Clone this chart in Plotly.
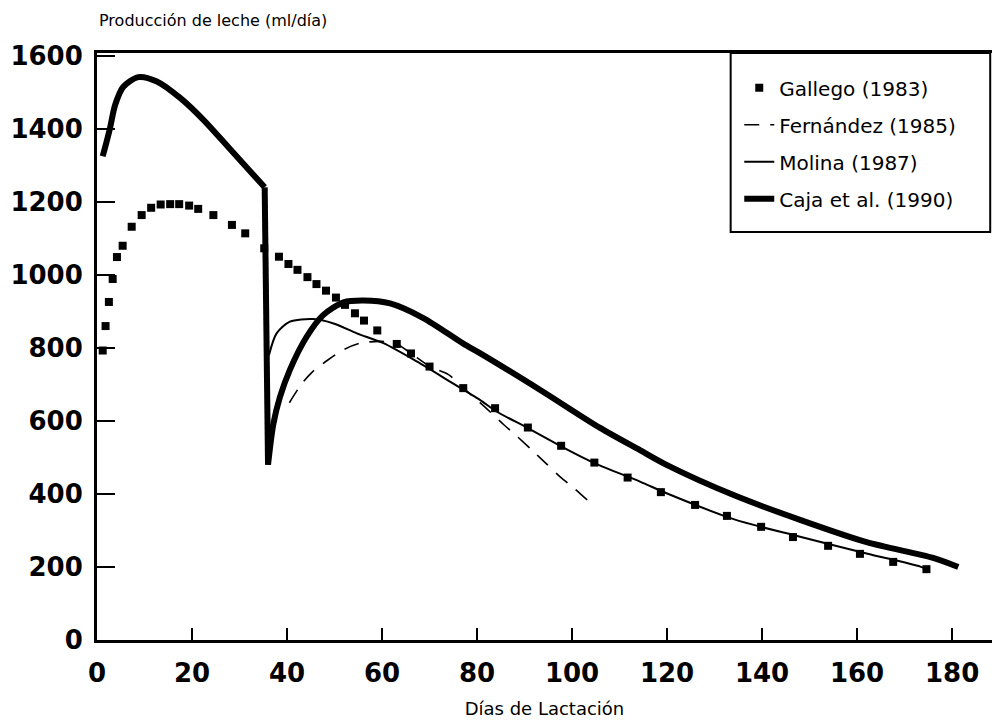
import plotly.graph_objects as go

# ---- data ----
gallego_days = [1.2, 1.8, 2.5, 3.3, 4.2, 5.4, 7.3, 9.4, 11.4, 13.4, 15.4, 17.3, 19.4, 21.3,
                24.5, 28.4, 31.2, 35.2, 38.3, 40.3, 42.2, 44.3, 46.2, 48.2, 50.3, 52.2,
                54.3, 56.2, 59.0, 63.1, 66.1, 70.0, 77.1, 83.8, 90.7, 97.7, 104.7, 111.7,
                118.7, 125.9, 132.6, 139.8, 146.5, 153.9, 160.6, 167.6, 174.6]
gallego_vals = [793, 860, 926, 989, 1049, 1080, 1132, 1164, 1184, 1193, 1194, 1194, 1190, 1181,
                1164, 1137, 1114, 1073, 1050, 1030, 1014, 994, 975, 957, 938, 918,
                895, 875, 848, 811, 785, 749, 690, 635, 582, 532, 486, 445,
                405, 370, 340, 310, 282, 258, 236, 214, 194]

fernandez_days = [40.5, 43.0, 45.3, 48.6, 51.9, 55.4, 59.9, 63.1, 66.1, 70.1, 74.0, 77.5,
                  81.5, 85.7, 88.5, 91.5, 94.5, 97.5, 100.4, 103.2, 104.8]
fernandez_vals = [650, 700, 734, 767, 795, 813, 818, 811, 785, 749, 727, 686,
                  640, 589, 557, 521, 484, 447, 416, 384, 368]

molina_days = [36.2, 37.8, 40.6, 45.5, 49.8, 54.7, 60.3, 67.3, 74.3, 80.6, 84.1, 90.8,
               97.8, 104.8, 114.3, 119.9, 134.0, 148.0, 162.0, 173.3, 174.6]
molina_vals = [780, 840, 872, 879, 867, 840, 813, 763, 708, 658, 626, 580,
               530, 484, 434, 402, 331, 283, 237, 201, 194]

caja_days = [1.2, 2.7, 3.8, 5.5, 8.7, 12.6, 17.5, 22.4, 28.0, 35.3, 36.0, 37.1, 38.5, 40.6,
             44.1, 47.6, 51.9, 56.1, 61.7, 68.7, 77.1, 80.6, 93.3, 105.9, 114.3, 120.0,
             134.0, 148.0, 162.0, 176.0, 181.3]
caja_vals = [1325, 1400, 1465, 1515, 1542, 1530, 1485, 1425, 1345, 1240, 480, 590, 665, 740,
             830, 890, 925, 930, 922, 882, 812, 786, 685, 581, 520, 479,
             397, 329, 268, 225, 200]

x_ticks = [0, 20, 40, 60, 80, 100, 120, 140, 160, 180]
y_ticks = [0, 200, 400, 600, 800, 1000, 1200, 1400, 1600]

series_names = ["Gallego (1983)", "Fernández (1985)", "Molina (1987)", "Caja et al. (1990)"]
x_title = "Días de Lactación"
y_title = "Producción de leche (ml/día)"


def split_at_drop(xs, ys):
    """Separate the sudden drop so the smooth curve parts do not overshoot it."""
    for i in range(len(ys) - 1):
        if ys[i] - ys[i + 1] > 500:
            bx = list(xs[:i + 1]) + [None] + list(xs[i:i + 2]) + [None] + list(xs[i + 1:])
            by = list(ys[:i + 1]) + [None] + list(ys[i:i + 2]) + [None] + list(ys[i + 1:])
            return bx, by
    return list(xs), list(ys)


caja_x, caja_y = split_at_drop(caja_days, caja_vals)

# ---- figure ----
fig = go.Figure()
fig.add_trace(go.Scatter(x=gallego_days, y=gallego_vals, mode="markers", name=series_names[0],
                         marker=dict(symbol="square", size=8, color="black"),
                         legendgroup="g1"))
fig.add_trace(go.Scatter(x=fernandez_days, y=fernandez_vals, mode="lines", name=series_names[1],
                         line=dict(color="black", width=1.6, dash="15px,11px", shape="spline",
                                   smoothing=0.8),
                         legendgroup="g2"))
fig.add_trace(go.Scatter(x=molina_days, y=molina_vals, mode="lines", name=series_names[2],
                         line=dict(color="black", width=2, shape="spline", smoothing=0.8),
                         legendgroup="g3"))
fig.add_trace(go.Scatter(x=caja_x, y=caja_y, mode="lines", name=series_names[3],
                         connectgaps=False,
                         line=dict(color="black", width=6, shape="spline", smoothing=0.8),
                         legendgroup="g4"))

tickfont = dict(family="DejaVu Sans", size=26, color="black", weight="bold")

fig.update_layout(
    width=992, height=727,
    margin=dict(l=97, r=0, t=53, b=87),
    paper_bgcolor="white", plot_bgcolor="white",
    showlegend=True,
    legend=dict(x=0.7176, y=0.974, xanchor="left", yanchor="top",
                bgcolor="rgba(0,0,0,0)", borderwidth=0,
                font=dict(family="DejaVu Sans", size=20, color="black"),
                tracegroupgap=8, itemwidth=30),
    xaxis=dict(range=[0, 188.4], tickvals=x_ticks, ticktext=[str(v) for v in x_ticks],
               showgrid=False, zeroline=False, showline=True, linecolor="black",
               linewidth=3, mirror=True, ticks="inside", ticklen=12, tickwidth=1.5,
               tickcolor="black", tickfont=tickfont, ticklabelstandoff=8,
               title=dict(text=x_title, standoff=16,
                          font=dict(family="DejaVu Sans", size=18, color="black"))),
    yaxis=dict(range=[0, 1608], tickvals=y_ticks, ticktext=[str(v) for v in y_ticks],
               showgrid=False, zeroline=False, showline=True, linecolor="black",
               linewidth=3, ticks="inside", ticklen=18, tickwidth=1.5, tickcolor="black",
               tickfont=tickfont, ticklabelstandoff=6),
    annotations=[dict(text=y_title, xref="paper", yref="paper", x=0.0, y=1.055,
                      xanchor="left", yanchor="middle", showarrow=False,
                      font=dict(family="DejaVu Sans", size=16, color="black"))],
    shapes=[dict(type="rect", xref="paper", yref="paper", x0=0.708, x1=0.998,
                 y0=0.695, y1=1.0, line=dict(color="black", width=2),
                 fillcolor="white", layer="above")],
)

fig.write_html("out.html")
